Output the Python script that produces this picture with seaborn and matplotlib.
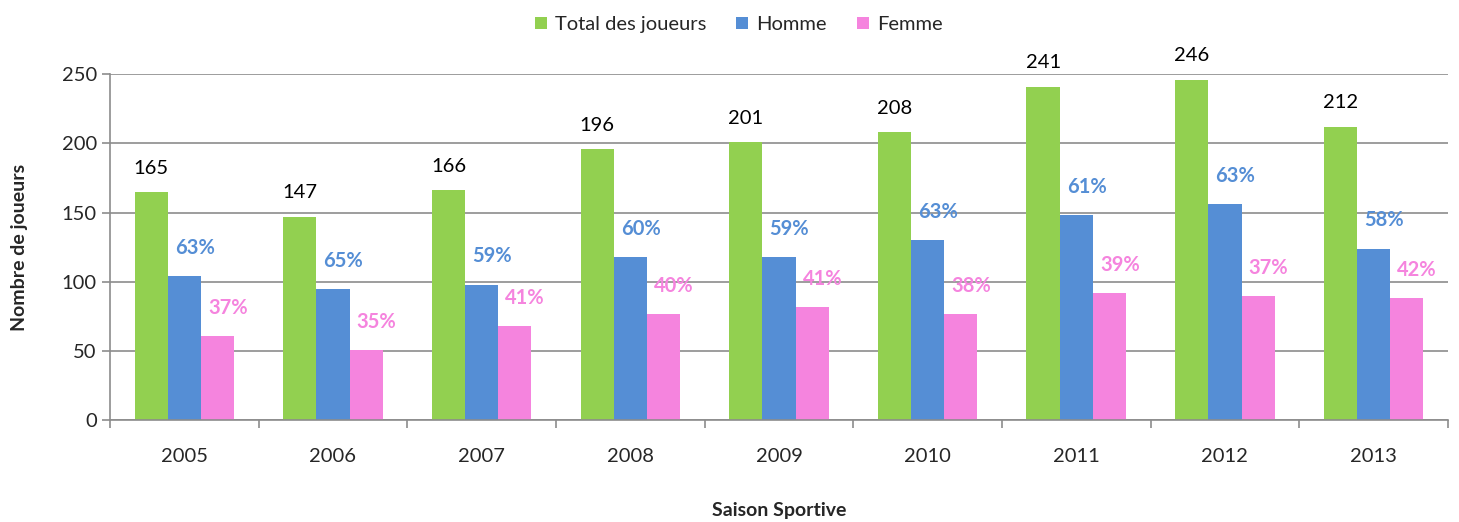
import pandas as pd
import numpy as np
import matplotlib
matplotlib.use("Agg")
import matplotlib.pyplot as plt
import seaborn as sns

# =====================================================
# DONNEES
# =====================================================
saisons = ["2005", "2006", "2007", "2008", "2009", "2010", "2011", "2012", "2013"]
total = [165, 147, 166, 196, 201, 208, 241, 246, 212]
homme = [104, 95, 98, 118, 118, 130, 148, 156, 124]
femme = [61, 51, 68, 77, 82, 77, 92, 90, 88]
pct_homme = ["63%", "65%", "59%", "60%", "59%", "63%", "61%", "63%", "58%"]
pct_femme = ["37%", "35%", "41%", "40%", "41%", "38%", "39%", "37%", "42%"]
series = ["Total des joueurs", "Homme", "Femme"]
couleurs = ["#92D050", "#558ED5", "#F584DE"]

df = pd.DataFrame({
    "saison": saisons * 3,
    "serie": [series[0]] * 9 + [series[1]] * 9 + [series[2]] * 9,
    "valeur": total + homme + femme,
})

# =====================================================
# GRAPHIQUE
# =====================================================
sns.set_style("white")
plt.rcParams["font.family"] = ["Lato", "DejaVu Sans"]

fig = plt.figure(figsize=(14.59, 5.22), dpi=100)
ax = fig.add_axes([0.0754, 0.195, 0.917, 0.663])

sns.barplot(data=df, x="saison", y="valeur", hue="serie", hue_order=series,
            palette=couleurs, width=0.67, saturation=1, linewidth=0,
            ax=ax, legend=True)

# etiquettes des barres
ax.bar_label(ax.containers[0], labels=[str(v) for v in total], padding=11,
             fontsize=14.5, color="black")
ax.bar_label(ax.containers[1], labels=pct_homme, padding=13, fontsize=14.5,
             color="#558ED5", fontweight="bold")
ax.bar_label(ax.containers[2], labels=pct_femme, padding=13, fontsize=14.5,
             color="#F584DE", fontweight="bold")

# decaler un peu les pourcentages vers la droite
for t in ax.texts:
    if t.get_text().endswith("%"):
        x, y = t.xy
        t.xy = (x + 0.07, y)

ax.set_ylim(0, 250)
ax.set_xlim(-0.5, 8.5)
ax.set_yticks(range(0, 251, 50))
ax.yaxis.grid(True, color="#8C8C8C", linewidth=1.2)
ax.set_axisbelow(True)

ax.set_xticks(np.arange(9))
ax.set_xticks(np.arange(-0.5, 9, 1), minor=True)
ax.tick_params(axis="x", which="major", length=0, labelsize=14.5, pad=20)
ax.tick_params(axis="x", which="minor", length=6, color="#8C8C8C", width=1.2,
               direction="out", bottom=True)
ax.tick_params(axis="y", length=6, color="#8C8C8C", width=1.2, labelsize=14.5,
               direction="out", left=True)

for s in ["top", "right"]:
    ax.spines[s].set_visible(False)
for s in ["left", "bottom"]:
    ax.spines[s].set_color("#8C8C8C")
    ax.spines[s].set_linewidth(1.2)

ax.set_xlabel("Saison Sportive", fontsize=14, fontweight="bold", labelpad=27)
ax.set_ylabel("Nombre de joueurs", fontsize=14, fontweight="bold", labelpad=24)

ax.legend(loc="upper center", bbox_to_anchor=(0.47, 1.22), ncol=3, frameon=False,
          fontsize=14.5, handlelength=0.6, handleheight=0.6, handletextpad=0.4,
          columnspacing=1.5)

fig.savefig("out.png", dpi=100)
